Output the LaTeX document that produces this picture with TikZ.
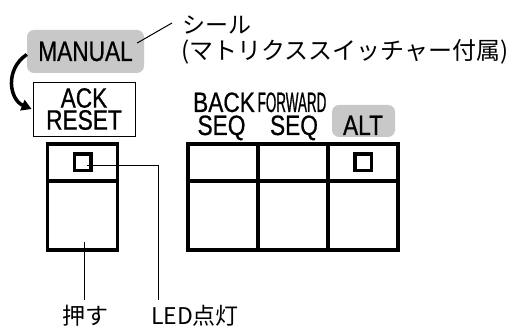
\documentclass[tikz,border=0pt]{standalone}
\usepackage{fontspec}
\setmainfont{Liberation Sans}
\newfontfamily\condfont[FakeStretch=0.81,FakeBold=0.6]{Liberation Sans}
\newfontfamily\narrowfont[FakeStretch=0.48,FakeBold=0.6]{Liberation Sans}
\newfontfamily\jpfont{Noto Sans CJK JP}
\usetikzlibrary{arrows.meta,positioning,calc}
\definecolor{sealgray}{HTML}{C8C8C8}

\begin{document}
\begin{tikzpicture}[x=1pt, y=1pt,
  keycap/.style={font=\condfont\fontsize{28}{22}\selectfont, inner sep=0pt},
  seal/.style={rounded corners=7pt, fill=sealgray, inner sep=0pt},
  celltop/.style={draw, line width=3.5pt, minimum width=70pt, minimum height=37pt, inner sep=0pt, outer sep=0pt},
  cellbot/.style={draw, line width=3.5pt, minimum width=70pt, minimum height=69pt, inner sep=0pt, outer sep=0pt},
  led/.style={draw, line width=3.5pt, minimum size=16.5pt, inner sep=0pt},
  note/.style={font=\jpfont\fontsize{23}{26}\selectfont, inner sep=0pt},
  lead/.style={line width=1pt}
]
  \useasboundingbox (0,0) rectangle (509,328);
  % seal and the ACK/RESET key
  \node[seal, keycap, minimum width=117pt, minimum height=43pt] (manual) at (85.5,276.5) {MANUAL};
  \node[draw, line width=0.8pt, keycap, align=center, minimum width=102pt, minimum height=54pt] (ack) at (84,219) {ACK\\RESET};
  \draw[-{Triangle[length=10pt,width=11pt]}, line width=3.5pt]
    ([yshift=-3]manual.west) .. controls (4,258) and (10,228) .. ([xshift=-1]ack.west);
  % buttons
  \node[celltop] (topack) at (82.5,165.5) {};
  \node[cellbot, below=0pt of topack] (botack) {};
  \foreach \n/\x in {back/223, fwd/293, alt/363}{
    \node[celltop] (top\n) at (\x,165.5) {};
    \node[cellbot, below=0pt of top\n] (bot\n) {};
  }
  \node[led] (ledack) at (topack) {};
  \node[led] (ledalt) at (topalt) {};
  % key labels
  \node[keycap, anchor=base] (backlbl) at (224,216) {BACK};
  \node[font=\narrowfont\fontsize{28}{22}\selectfont, inner sep=0pt, anchor=base] (fwdlbl) at (292,216) {FORWARD};
  \node[keycap, anchor=base] (seqback) at (221.5,193) {SEQ};
  \node[keycap, anchor=base] (seqfwd) at (294,193) {SEQ};
  \node[seal, minimum width=63pt, minimum height=32pt] (altseal) at (363.5,207) {};
  \node[keycap, anchor=base] (altlbl) at (363,193) {ALT};
  % notes
  \node[note, anchor=west] (sealnote) at (182,303) {シール};
  \node[note, anchor=west, font=\jpfont\fontsize{24}{26}\selectfont] (sealsrc) at (181,276) {(マトリクススイッチャー付属)};
  \draw[lead] ([shift={(-7,8.5)}]manual.east) -- ([shift={(-10,2)}]sealnote.west);
  \node[note] (push) at (85,12) {押す};
  \node[note] (ledon) at (195,12) {LED点灯};
  \coordinate (pushpt) at (84,86);
  \draw[lead] (pushpt) -- ([yshift=5]push.north -| pushpt);
  \draw[lead] ([shift={(4,-3)}]ledack.center) -| ([xshift=-37,yshift=5]ledon.north);
\end{tikzpicture}
\end{document}
